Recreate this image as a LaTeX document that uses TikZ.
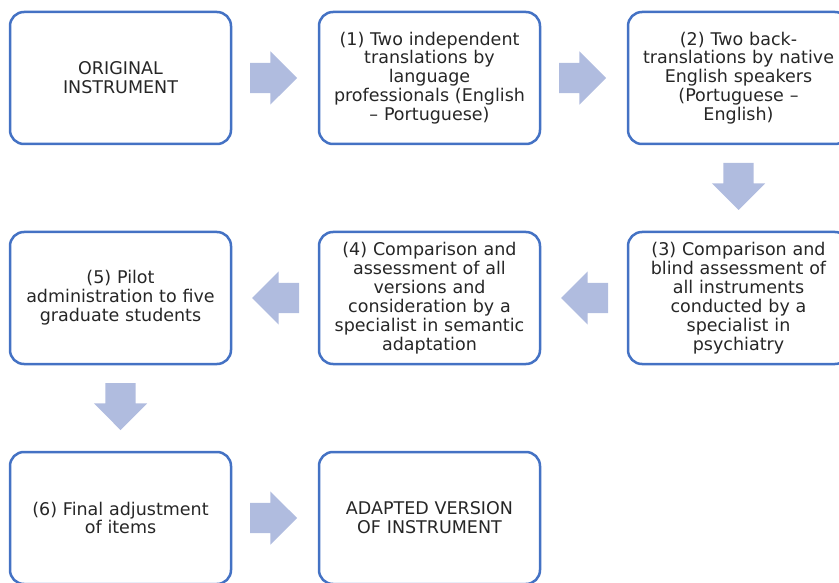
\documentclass[tikz,border=0pt]{standalone}
\usepackage{fontspec}
\setmainfont{DejaVu Sans}
\usetikzlibrary{positioning,shapes.arrows,calc}
\definecolor{boxblue}{HTML}{4472C4}
\definecolor{arrowblue}{HTML}{B0BCDF}
\definecolor{textgray}{HTML}{262626}

\begin{document}
\begin{tikzpicture}[x=1pt,y=-1pt,font=\fontsize{17.5}{18.9}\selectfont,node distance=88pt and 88pt]
% Two styles: boxes and block arrows
\tikzstyle{step box}=[draw=boxblue,line width=2.5pt,rounded corners=14pt,minimum width=221pt,minimum height=132pt,text width=215pt,align=center,inner sep=0pt,outer sep=0pt,text=textgray];
\tikzstyle{block arrow}=[single arrow,fill=arrowblue,draw=none,inner xsep=0pt,inner ysep=15pt,minimum height=47pt,single arrow head extend=11.5pt,outer sep=0pt,anchor=tail];
\useasboundingbox (0,0) rectangle (839,583);
% The boxes
\node[step box] (orig) at (120.5,78) {ORIGINAL\\INSTRUMENT};
\node[step box,right=of orig] (trans) {(1) Two independent\\translations by\\language\\professionals (English\\-- Portuguese)};
\node[step box,right=of trans] (back) {(2) Two back-\\translations by native\\English speakers\\(Portuguese --\\English)};
\node[step box,below=of back] (blind) {(3) Comparison and\\blind assessment of\\all instruments\\conducted by a\\specialist in\\psychiatry};
\node[step box,left=of blind] (compare) {(4) Comparison and\\assessment of all\\versions and\\consideration by a\\specialist in semantic\\adaptation};
\node[step box,left=of compare] (pilot) {(5) Pilot\\administration to five\\graduate students};
\node[step box,below=of pilot] (final) {(6) Final adjustment\\of items};
\node[step box,right=of final] (adapted) {ADAPTED VERSION\\OF INSTRUMENT};
% The arrows (tail 19pt after the box they leave)
\node[block arrow] (a1) at ($(orig.east)!19pt!(trans.west)$) {};
\node[block arrow] (a2) at ($(trans.east)!19pt!(back.west)$) {};
\node[block arrow,rotate=-90] (a3) at ($(back.south)!19pt!(blind.north)$) {};
\node[block arrow,rotate=180] (a4) at ($(blind.west)!20pt!(compare.east)$) {};
\node[block arrow,rotate=180] (a5) at ($(compare.west)!20pt!(pilot.east)$) {};
\node[block arrow,rotate=-90] (a6) at ($(pilot.south)!19pt!(final.north)$) {};
\node[block arrow] (a7) at ($(final.east)!19pt!(adapted.west)$) {};
\end{tikzpicture}
\end{document}
